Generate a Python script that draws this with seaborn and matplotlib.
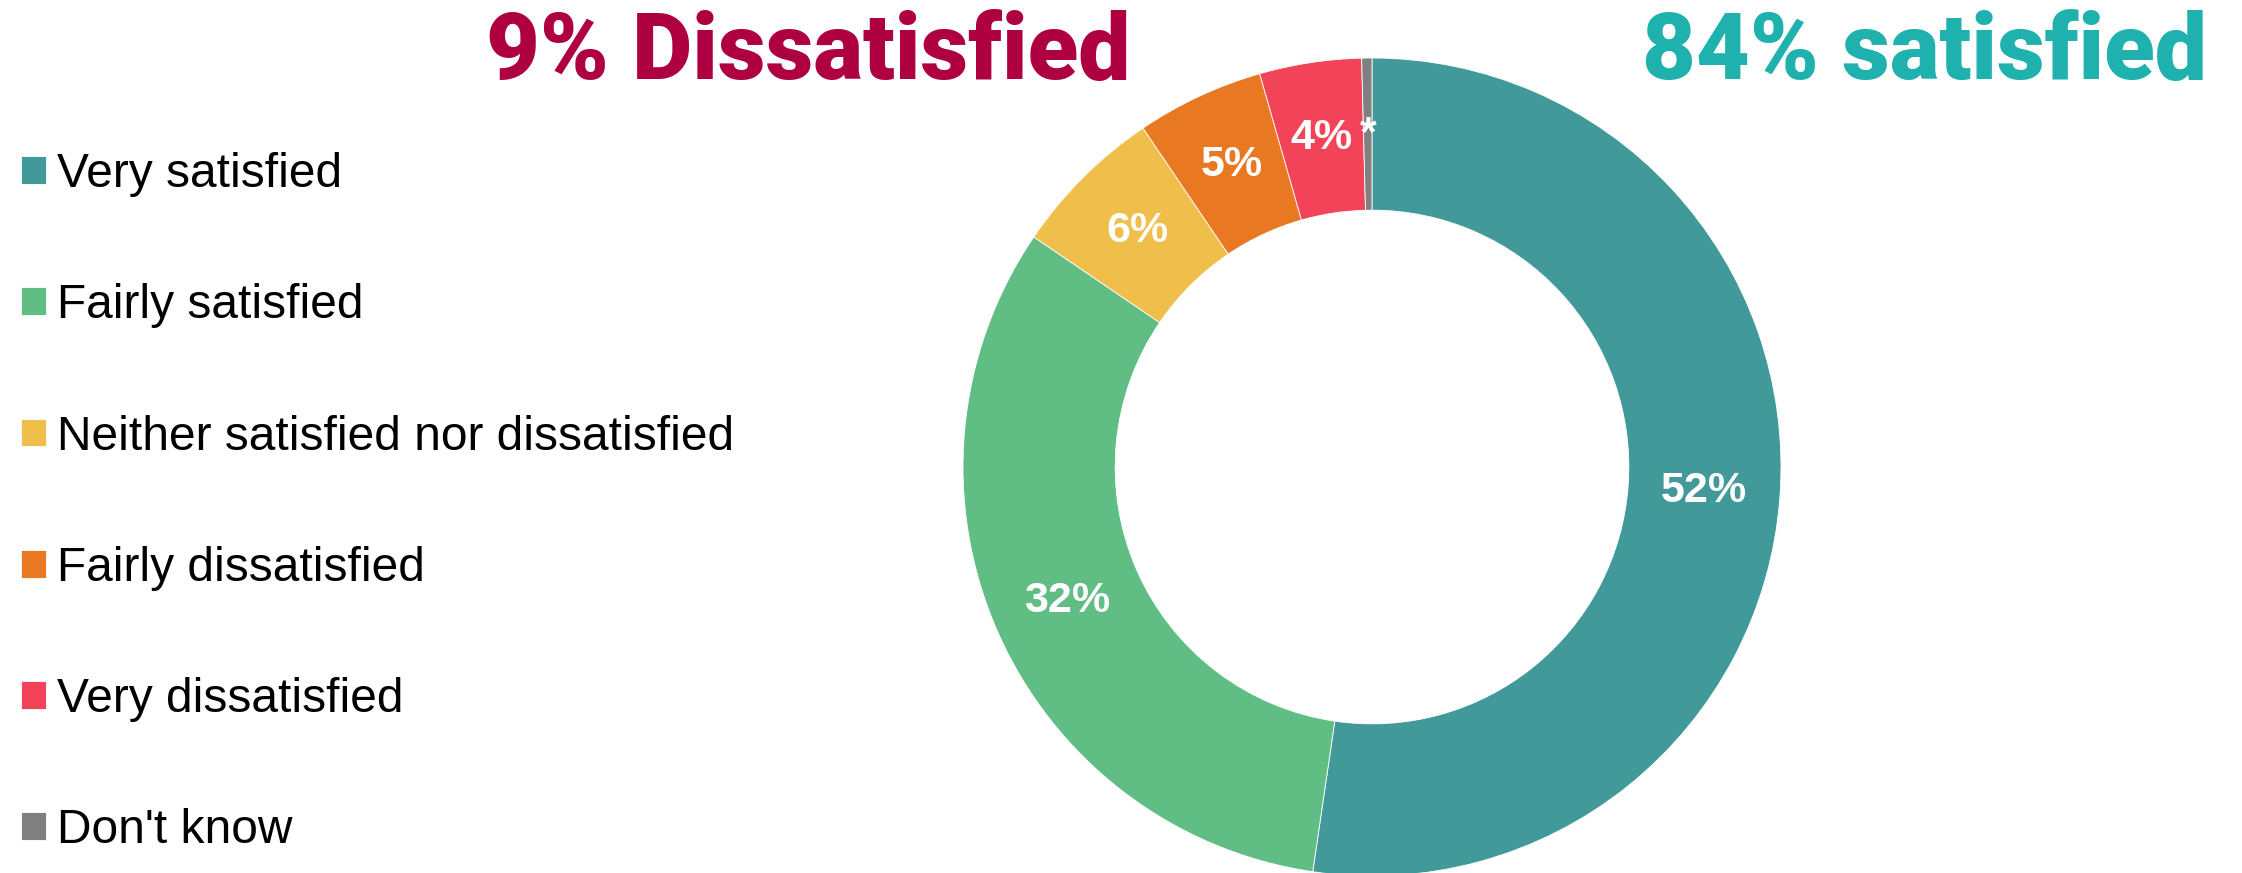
import matplotlib
matplotlib.use("Agg")
import matplotlib.pyplot as plt
import seaborn as sns

# Dados
categorias = ["Very satisfied", "Fairly satisfied", "Neither satisfied nor dissatisfied",
              "Fairly dissatisfied", "Very dissatisfied", "Don't know"]
valores = [52, 32, 6, 5, 4, 0.4]
rotulos = ["52%", "32%", "6%", "5%", "4%", "*"]
cores = ["#429999", "#60BD84", "#F0BE4A", "#E87822", "#F24358", "#808080"]

titulo_insat = "9% Dissatisfied"
titulo_sat = "84% satisfied"

sns.set_theme(style="white")
plt.rcParams["font.family"] = ["Liberation Sans", "DejaVu Sans"]

W, H = 2242, 873
fig = plt.figure(figsize=(W / 100, H / 100), dpi=100)

# eixo do donut (centro ~ (1372, 467), raio ~409 px)
cx, cy, r = 1372, 467, 409
ax = fig.add_axes([(cx - r) / W, (H - cy - r) / H, 2 * r / W, 2 * r / H])
paleta = sns.color_palette(cores)

wedges, textos = ax.pie(
    valores, labels=rotulos, colors=paleta, startangle=90, counterclock=False,
    radius=1, labeldistance=0.814,
    wedgeprops=dict(width=0.372, edgecolor="white", linewidth=0.6),
    textprops=dict(color="white", fontsize=31, fontweight="bold"),
)
for t in textos:
    t.set_horizontalalignment("center")
    t.set_verticalalignment("center")
ax.set_xlim(-1, 1)
ax.set_ylim(-1, 1)
ax.set_aspect("equal")
ax.axis("off")

# legenda à esquerda
leg = fig.legend(
    wedges, categorias, loc="upper left", bbox_to_anchor=(21 / W, 1 - 152 / H),
    frameon=False, fontsize=34.5, handlelength=0.52, handleheight=0.52,
    handletextpad=0.23, labelspacing=1.8, borderpad=0, borderaxespad=0,
    labelcolor="black",
)

# títulos
fig.text(486 / W, 1 - 79 / H, titulo_insat, color="#AE0040", fontsize=67,
         fontweight="heavy", family="Roboto", ha="left", va="baseline")
fig.text(2207 / W, 1 - 79 / H, titulo_sat, color="#1FB1AE", fontsize=67,
         fontweight="heavy", family="Roboto", ha="right", va="baseline")

fig.savefig("out.png", dpi=100, facecolor="white")
